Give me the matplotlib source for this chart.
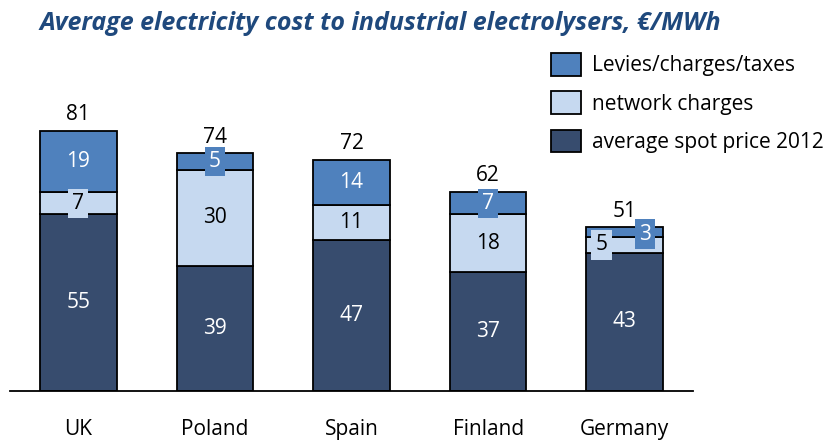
import matplotlib
matplotlib.use("Agg")
import matplotlib.pyplot as plt
import numpy as np
from matplotlib.patches import Patch

plt.rcParams['font.family'] = ['Open Sans', 'DejaVu Sans']

countries = ["UK", "Poland", "Spain", "Finland", "Germany"]
spot = [55, 39, 47, 37, 43]
network = [7, 30, 11, 18, 5]
levies = [19, 5, 14, 7, 3]
totals = [81, 74, 72, 62, 51]

c_spot = "#374C6E"
c_net = "#C6D9F0"
c_lev = "#4F81BD"

fig = plt.figure(figsize=(8.39, 4.43), dpi=100)
ax = fig.add_axes([10/839, 1 - 391/443, 683/839, 321/443])

x = np.arange(len(countries))
w = 0.56
spot_a = np.array(spot); net_a = np.array(network); lev_a = np.array(levies)
ax.bar(x, spot_a, w, color=c_spot, edgecolor="black", linewidth=1.3, zorder=2)
ax.bar(x, net_a, w, bottom=spot_a, color=c_net, edgecolor="black", linewidth=1.3, zorder=2)
ax.bar(x, lev_a, w, bottom=spot_a + net_a, color=c_lev, edgecolor="black", linewidth=1.3, zorder=2)

fs = 15
xoff_net = [0, 0, 0, 0, -0.17]
xoff_lev = [0, 0, 0, 0, 0.15]
yoff_lev = [0, 0, 0, 0, -0.6]
for i in range(len(countries)):
    ax.text(x[i], spot[i] / 2, str(spot[i]), ha="center", va="center", fontsize=fs,
            color="white", zorder=3)
    ax.text(x[i] + xoff_net[i], spot[i] + network[i] / 2, str(network[i]), ha="center",
            va="center", fontsize=fs, color="black", zorder=3,
            bbox=dict(boxstyle="square,pad=0.2", fc=c_net, ec="none"))
    ax.text(x[i] + xoff_lev[i], spot[i] + network[i] + levies[i] / 2 + yoff_lev[i], str(levies[i]),
            ha="center", va="center", fontsize=fs, color="white", zorder=4,
            bbox=dict(boxstyle="square,pad=0.2", fc=c_lev, ec="none"))
    ax.text(x[i], totals[i] + 1.8, str(totals[i]), ha="center", va="bottom", fontsize=fs,
            color="black", zorder=3)

ax.set_xlim(-0.5, len(countries) - 0.5)
ax.set_ylim(0, 100)
for s in ["top", "right", "left"]:
    ax.spines[s].set_visible(False)
ax.spines["bottom"].set_linewidth(1.3)
ax.set_yticks([])
ax.set_xticks(x)
ax.set_xticklabels(countries, fontsize=fs)
ax.tick_params(axis="x", length=0, pad=20)

handles = [Patch(fc=c_lev, ec="black", lw=1.3, label="Levies/charges/taxes"),
           Patch(fc=c_net, ec="black", lw=1.3, label="network charges"),
           Patch(fc=c_spot, ec="black", lw=1.3, label="average spot price 2012")]
fig.legend(handles=handles, loc="upper left", bbox_to_anchor=(551/839, 1 - 53/443),
           frameon=False, fontsize=fs, handlelength=1.45, handleheight=1.3,
           handletextpad=0.5, labelspacing=0.72, borderpad=0, borderaxespad=0)

fig.text(40/839, 1 - 23/443, "Average electricity cost to industrial electrolysers, €/MWh",
         fontsize=18, fontweight="bold", fontstyle="italic", color="#1F497D",
         ha="left", va="center")

fig.savefig("out.png", dpi=100)
